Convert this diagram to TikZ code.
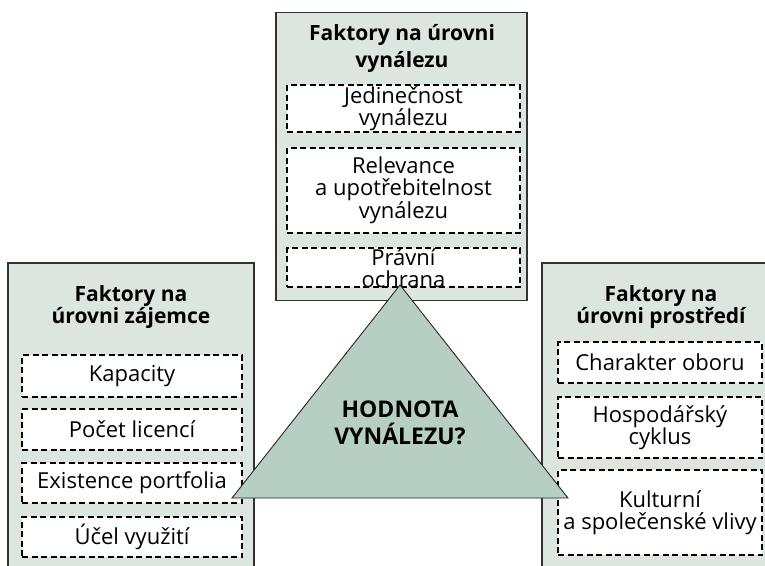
\documentclass[tikz,border=0pt]{standalone}
\usepackage{fontspec}
\setmainfont{Open Sans}
\usepackage{tikz}
\definecolor{panelgreen}{HTML}{DCE5DE}
\definecolor{trianglegreen}{HTML}{B7CFC2}
\tikzset{
  panel/.style={draw=black!80, line width=1.2pt, fill=panelgreen, inner sep=0pt},
  paneltitle/.style={align=center, font=\fontsize{21}{22}\selectfont\bfseries},
  factor/.style={draw, line width=1.6pt, dash pattern=on 6pt off 3.5pt, fill=white,
    align=center, inner sep=0pt, font=\fontsize{22}{22}\selectfont},
  hodnota/.style={align=center, font=\fontsize{23}{27}\selectfont\bfseries}
}

\begin{document}
\begin{tikzpicture}[x=1pt, y=-1pt]
\clip (0,0) rectangle (765,565);
\useasboundingbox (0,0) rectangle (765,565);
% panels
\node[panel, minimum width=251, minimum height=288] (toppanel) at (401.5,156.5) {};
\node[panel, minimum width=246, minimum height=340] (leftpanel) at (131,433) {};
\node[panel, minimum width=260, minimum height=340] (rightpanel) at (672,433) {};
% panel titles
\node[paneltitle, font=\fontsize{21}{27}\selectfont\bfseries] (toptitle) at (402,48) {Faktory na úrovni\\vynálezu};
\node[paneltitle] (lefttitle) at (131,307) {Faktory na\\úrovni zájemce};
\node[paneltitle] (righttitle) at (661,307) {Faktory na\\úrovni prostředí};
% factors of the invention
\node[factor, minimum width=233, minimum height=47] (jedinecnost) at (403.5,108.5) {Jedinečnost\\vynálezu};
\node[factor, minimum width=233, minimum height=85] (relevance) at (403.5,190.5) {Relevance\\a upotřebitelnost\\vynálezu};
\node[factor, minimum width=233, minimum height=39] (ochrana) at (403.5,267.5) {};
\node[font=\fontsize{22}{22}\selectfont, align=center] (ochranatext) at (403.5,268.5) {Právní\\ochrana};
% factors of the licensee
\node[factor, minimum width=220, minimum height=42] (kapacity) at (132,376) {Kapacity};
\node[factor, minimum width=220, minimum height=41] (pocet) at (132,429.5) {Počet licencí};
\node[factor, minimum width=220, minimum height=40] (portfolio) at (132,483) {Existence portfolia};
\node[factor, minimum width=220, minimum height=40] (ucel) at (132,537) {Účel využití};
% factors of the environment
\node[factor, minimum width=204, minimum height=41] (charakter) at (660,362.5) {Charakter oboru};
\node[factor, minimum width=204, minimum height=61] (cyklus) at (660,427.5) {Hospodářský\\cyklus};
\node[factor, minimum width=204, minimum height=85] (vlivy) at (660,512.5) {Kulturní\\a společenské vlivy};
% value triangle
\coordinate (apex) at (400,285);
\coordinate (baseleft) at (232,498);
\coordinate (baseright) at (568,498);
\draw[draw=black!85, line width=0.9pt, fill=trianglegreen] (apex) -- (baseleft) -- (baseright) -- cycle;
\node[hodnota] (hodnotatext) at (400,423) {HODNOTA\\VYNÁLEZU?};
\end{tikzpicture}
\end{document}
